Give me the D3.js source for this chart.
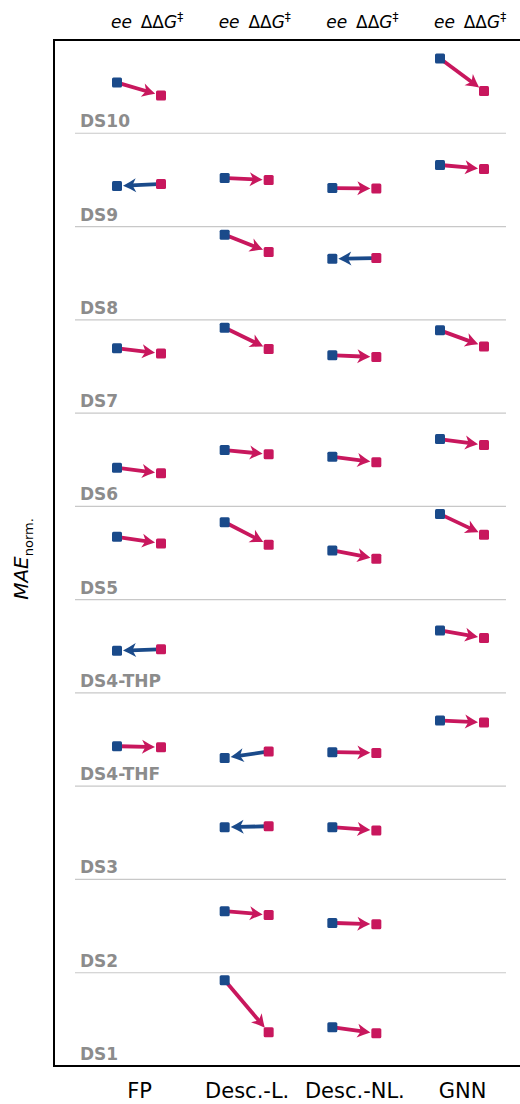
<!DOCTYPE html>
<html>
<head>
<meta charset="utf-8">
<script src="https://cdnjs.cloudflare.com/ajax/libs/d3/7.8.5/d3.min.js"></script>
<style>
  body { margin: 0; background: #fff; }
  text { font-family: "DejaVu Sans", sans-serif; }
</style>
</head>
<body>
<div id="chart"></div>
<script>
var datasets = ["DS10", "DS9", "DS8", "DS7", "DS6", "DS5", "DS4-THP", "DS4-THF", "DS3", "DS2", "DS1"];
var methods = ["FP", "Desc.-L.", "Desc.-NL.", "GNN"];

// normalised MAE inside each dataset row (null = no model for this pair)
var eeFP      = [0.544, 0.434, null, 0.694, 0.413, 0.673, 0.451, 0.429, null, null, null];
var ddgFP     = [0.405, 0.456, null, 0.640, 0.354, 0.603, 0.469, 0.418, null, null, null];
var eeDescL   = [null, 0.520, 0.912, 0.915, 0.603, 0.831, null, 0.303, 0.560, 0.660, 0.920];
var ddgDescL  = [null, 0.499, 0.727, 0.686, 0.558, 0.588, null, 0.372, 0.571, 0.620, 0.362];
var eeDescNL  = [null, 0.413, 0.654, 0.619, 0.531, 0.528, null, 0.365, 0.560, 0.534, 0.416];
var ddgDescNL = [null, 0.407, 0.662, 0.601, 0.472, 0.438, null, 0.357, 0.525, 0.520, 0.351];
var eeGNN     = [0.802, 0.660, null, 0.887, 0.721, 0.917, 0.670, 0.705, null, null, null];
var ddgGNN    = [0.453, 0.617, null, 0.715, 0.657, 0.695, 0.590, 0.683, null, null, null];

var eeByMethod = [eeFP, eeDescL, eeDescNL, eeGNN];
var ddgByMethod = [ddgFP, ddgDescL, ddgDescNL, ddgGNN];

var blue = "#1a4a8a", crimson = "#c8175d";
var width = 520, height = 1104;
var plotTop = 40, plotBottom = 1066, plotLeft = 54;

var svg = d3.select("#chart").append("svg")
  .attr("width", width)
  .attr("height", height);

var x = d3.scalePoint().domain(methods).range([139, 462]);
var pair = d3.scalePoint().domain(["ee", "ddg"]).range([-22, 22]);
var y = d3.scaleBand().domain(datasets).range([plotTop, plotBottom]);
var v = d3.scaleLinear().domain([0, 1]).range([y.bandwidth(), 0]);

// row separators
svg.selectAll(".sep")
  .data(datasets.slice(1))
  .enter().append("line")
  .attr("x1", 75).attr("x2", 506)
  .attr("y1", function(d) { return y(d); })
  .attr("y2", function(d) { return y(d); })
  .attr("stroke", "#c8c8c8")
  .attr("stroke-width", 1.2);

// row labels
svg.selectAll(".rowlab")
  .data(datasets)
  .enter().append("text")
  .attr("x", 80)
  .attr("y", function(d) { return y(d) + y.bandwidth() - 6; })
  .attr("font-size", 17)
  .attr("font-weight", "bold")
  .attr("fill", "#8c8c8c")
  .text(function(d) { return d; });

// build cells
var cells = [];
methods.forEach(function(m, j) {
  datasets.forEach(function(d, i) {
    var ee = eeByMethod[j][i], ddg = ddgByMethod[j][i];
    if (ee == null || ddg == null) return;
    cells.push({
      method: m, ds: d,
      xe: x(m) + pair("ee"), ye: y(d) + v(ee),
      xd: x(m) + pair("ddg"), yd: y(d) + v(ddg),
      better: ddg < ee ? "ddg" : "ee"
    });
  });
});

// arrows: point toward the lower MAE
var arrows = svg.selectAll(".arrow")
  .data(cells)
  .enter().append("g")
  .attr("class", "arrow");

arrows.each(function(c) {
  var g = d3.select(this);
  var sx, sy, tx, ty, col;
  if (c.better == "ddg") { sx = c.xe; sy = c.ye; tx = c.xd; ty = c.yd; col = crimson; }
  else { sx = c.xd; sy = c.yd; tx = c.xe; ty = c.ye; col = blue; }
  var dx = tx - sx, dy = ty - sy, len = Math.sqrt(dx * dx + dy * dy);
  var ux = dx / len, uy = dy / len;
  var tipX = tx - ux * 6, tipY = ty - uy * 6;
  g.append("line")
    .attr("x1", sx + ux * 3).attr("y1", sy + uy * 3)
    .attr("x2", tipX - ux * 8).attr("y2", tipY - uy * 8)
    .attr("stroke", col)
    .attr("stroke-width", 3.8);
  var ang = Math.atan2(dy, dx) * 180 / Math.PI;
  g.append("path")
    .attr("d", "M0,0 Q-6,-2.8 -13,-7 L-9.5,0 L-13,7 Q-6,2.8 0,0 Z")
    .attr("transform", "translate(" + tipX + "," + tipY + ") rotate(" + ang + ")")
    .attr("fill", col);
});

// squares
svg.selectAll(".sqE")
  .data(cells)
  .enter().append("rect")
  .attr("x", function(c) { return c.xe - 5; })
  .attr("y", function(c) { return c.ye - 5; })
  .attr("width", 10).attr("height", 10)
  .attr("rx", 1.5)
  .attr("fill", blue);

svg.selectAll(".sqD")
  .data(cells)
  .enter().append("rect")
  .attr("x", function(c) { return c.xd - 5; })
  .attr("y", function(c) { return c.yd - 5; })
  .attr("width", 10).attr("height", 10)
  .attr("rx", 1.5)
  .attr("fill", crimson);

// frame (right side runs off the picture)
svg.append("rect")
  .attr("x", plotLeft).attr("y", plotTop)
  .attr("width", 500).attr("height", plotBottom - plotTop)
  .attr("fill", "none")
  .attr("stroke", "#000")
  .attr("stroke-width", 2);

// top labels
var topLab = svg.selectAll(".toplab")
  .data(methods)
  .enter().append("text")
  .attr("x", function(m) { return x(m) + pair("ee") - 6; })
  .attr("y", 28)
  .attr("font-size", 17);
topLab.append("tspan").attr("font-style", "italic").text("ee");
topLab.append("tspan").text("\u2009 \u0394\u0394");
topLab.append("tspan").attr("font-style", "italic").text("G");
topLab.append("tspan").attr("font-size", 12).attr("dy", -7).text("\u2021");

// bottom axis
var xAxis = svg.append("g")
  .attr("transform", "translate(0," + plotBottom + ")")
  .call(d3.axisBottom(x).tickSize(0).tickPadding(17));
xAxis.select(".domain").remove();
xAxis.selectAll("text")
  .attr("font-size", 21)
  .attr("font-family", "DejaVu Sans")
  .attr("fill", "#000");

// y label
var ylab = svg.append("text")
  .attr("transform", "translate(28," + ((plotTop + plotBottom) / 2 + 6) + ") rotate(-90)")
  .attr("text-anchor", "middle")
  .attr("font-size", 20);
ylab.append("tspan").attr("font-style", "italic").text("MAE");
ylab.append("tspan").attr("font-size", 13).attr("dy", 5).text("norm.");
</script>
</body>
</html>
